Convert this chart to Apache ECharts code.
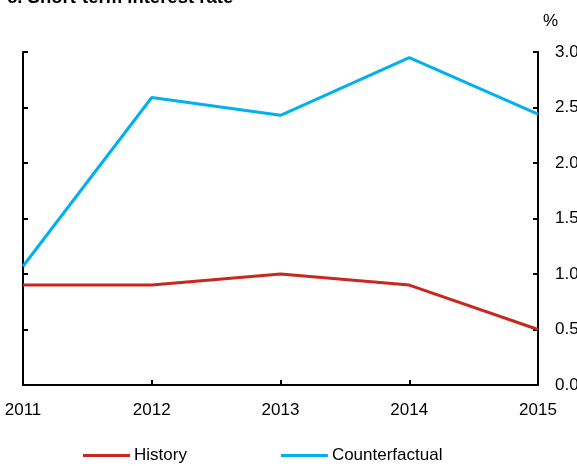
<!DOCTYPE html>
<html>
<head>
<meta charset="utf-8">
<script src="https://cdn.jsdelivr.net/npm/echarts@6/dist/echarts.min.js"></script>
<style>
  html, body { margin: 0; padding: 0; background: #fff; }
  #chart { width: 577px; height: 466px; }
</style>
</head>
<body>
<div id="chart"></div>
<script>
const years = ['2011', '2012', '2013', '2014', '2015'];
const history = [0.9, 0.9, 1.0, 0.9, 0.5];
const counterfactual = [1.07, 2.59, 2.43, 2.95, 2.44];

const chart = echarts.init(document.getElementById('chart'));
const font = 'Liberation Sans, Arial, sans-serif';
const axisCommon = {
  type: 'value',
  min: 0,
  max: 3,
  interval: 0.5,
  splitLine: { show: false },
  axisLine: { show: true, lineStyle: { color: '#000', width: 2 } },
  axisTick: { show: true, inside: true, length: 5, lineStyle: { color: '#000', width: 2 } }
};

chart.setOption({
  animation: false,
  title: {
    text: 'c. Short-term interest rate',
    left: 2,
    top: -17,
    textStyle: { fontFamily: font, fontSize: 18.5, fontWeight: 'bold', color: '#000' }
  },
  grid: { left: 23, right: 39, top: 52, bottom: 81, outerBoundsMode: 'none' },
  legend: {
    bottom: -3,
    left: 78,
    itemWidth: 47,
    itemHeight: 3,
    itemGap: 94,
    icon: 'rect',
    textStyle: { fontFamily: font, fontSize: 17, color: '#000', padding: [0, 0, 0, -1] },
    data: ['History', 'Counterfactual']
  },
  xAxis: {
    type: 'category',
    data: years,
    boundaryGap: false,
    axisLine: { lineStyle: { color: '#000', width: 2 } },
    axisTick: { inside: true, length: 5, lineStyle: { color: '#000', width: 2 } },
    axisLabel: { fontFamily: font, fontSize: 17, color: '#000', margin: 17 }
  },
  yAxis: [
    Object.assign({}, axisCommon, { position: 'left', axisLabel: { show: false } }),
    Object.assign({}, axisCommon, {
      position: 'right',
      name: '%',
      nameLocation: 'end',
      nameGap: 22,
      nameTextStyle: { fontFamily: font, fontSize: 17, color: '#000', align: 'left', padding: [0, 0, 0, 5] },
      axisLabel: {
        fontFamily: font, fontSize: 17, color: '#000', margin: 17,
        formatter: v => v.toFixed(1)
      }
    })
  ],
  series: [
    {
      name: 'History',
      type: 'line',
      data: history,
      symbol: 'none',
      color: '#C8281E',
      lineStyle: { width: 3, color: '#C8281E' }
    },
    {
      name: 'Counterfactual',
      type: 'line',
      data: counterfactual,
      symbol: 'none',
      color: '#00B0F0',
      lineStyle: { width: 3, color: '#00B0F0' }
    }
  ]
});
</script>
</body>
</html>
